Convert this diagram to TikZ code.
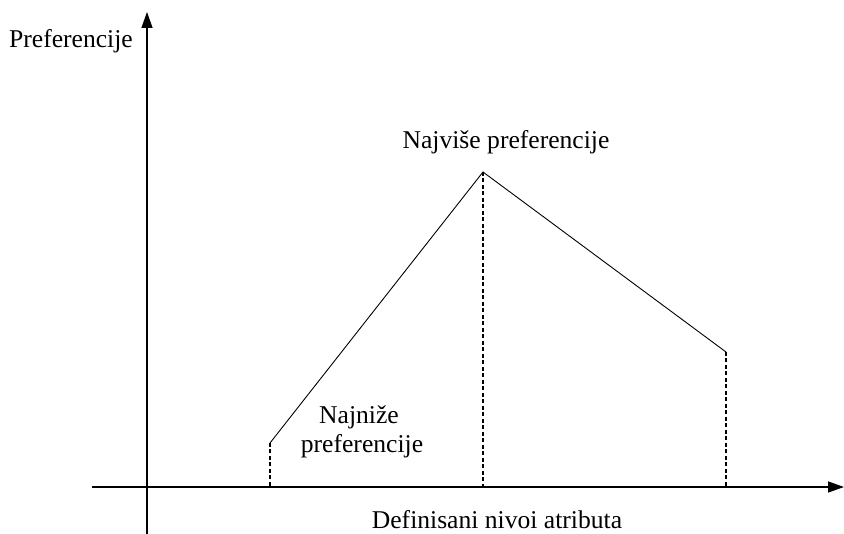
\documentclass[tikz,border=0pt]{standalone}
\usepackage{fontspec}
\setmainfont{Liberation Serif}
\usetikzlibrary{arrows.meta}
\begin{document}
\begin{tikzpicture}[x=1pt,y=-1pt,
  axis/.style={line width=1.3pt,-{Triangle[length=16pt,width=11pt]}},
  curve/.style={line width=0.9pt},
  drop/.style={line width=1.4pt,dash pattern=on 4pt off 2.5pt},
  lbl/.style={font=\fontsize{25.6}{29}\selectfont,inner sep=0pt,anchor=base,align=center}]
\useasboundingbox (0,0) rectangle (844,534);
% axes
\coordinate (ybot) at (147,534);
\coordinate (ytop) at (147,12);
\coordinate (xleft) at (92,487);
\coordinate (xright) at (844,487);
\draw[axis] (ybot) -- (ytop);
\draw[axis] (xleft) -- (xright);
% preference curve
\coordinate (low) at (270,443);
\coordinate (peak) at (483,172);
\coordinate (end) at (726,352);
\coordinate (lowb) at (270,487);
\coordinate (peakb) at (483,487);
\coordinate (endb) at (726,487);
\draw[curve] (low) -- (peak) -- (end);
\draw[drop] (low) -- (lowb);
\draw[drop] (peak) -- (peakb);
\draw[drop] (end) -- (endb);
% labels
\node[lbl] (ylab) at (71,48) {Preferencije};
\node[lbl] (xlab) at (497,529) {Definisani nivoi atributa};
\node[lbl] (toplab) at (506,149) {Najviše preferencije};
\node[lbl] (lowlab1) at (359,424) {Najniže};
\node[lbl] (lowlab2) at (362,453) {preferencije};
\end{tikzpicture}
\end{document}
